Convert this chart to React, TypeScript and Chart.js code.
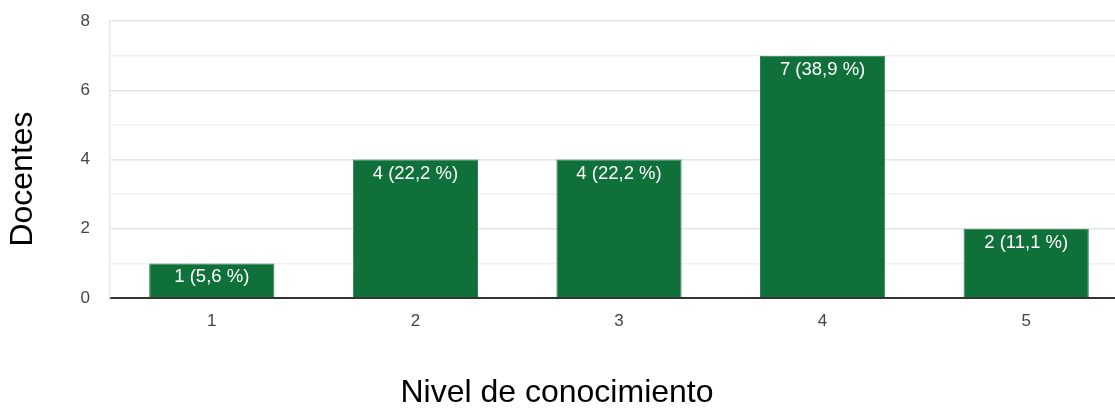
import React, { useEffect, useRef } from "react";
import { Chart, registerables } from "chart.js";

Chart.register(...registerables);

const categories = ["1", "2", "3", "4", "5"];
const docentes = [1, 4, 4, 7, 2];
const percentLabels = ["1 (5,6 %)", "4 (22,2 %)", "4 (22,2 %)", "7 (38,9 %)", "2 (11,1 %)"];
const yTickLabels = [0, 2, 4, 6, 8];
const xTitle = "Nivel de conocimiento";
const yTitle = "Docentes";

const FONT = "'Liberation Sans', Arial, sans-serif";

const barLabelPlugin = {
  id: "barLabels",
  afterDatasetsDraw(chart: any) {
    const ctx = chart.ctx;
    const meta = chart.getDatasetMeta(0);
    ctx.save();
    ctx.fillStyle = "#ffffff";
    ctx.font = `18.5px ${FONT}`;
    ctx.textAlign = "center";
    ctx.textBaseline = "middle";
    meta.data.forEach((bar: any, i: number) => {
      ctx.fillText(percentLabels[i], bar.x, bar.y + 14);
    });
    ctx.restore();
  },
};

const axisTitlePlugin = {
  id: "axisTitles",
  afterDraw(chart: any) {
    const ctx = chart.ctx;
    ctx.save();
    ctx.fillStyle = "#000000";
    ctx.font = `32px ${FONT}`;
    ctx.textAlign = "center";
    ctx.textBaseline = "middle";
    ctx.fillText(xTitle, 557, 393);
    ctx.translate(23, 179);
    ctx.rotate(-Math.PI / 2);
    ctx.fillText(yTitle, 0, 0);
    ctx.restore();
  },
};

export default function App() {
  const ref = useRef<HTMLCanvasElement | null>(null);

  useEffect(() => {
    document.body.style.margin = "0";
    document.body.style.overflow = "hidden";
    const chart = new Chart(ref.current as HTMLCanvasElement, {
      type: "bar",
      data: {
        labels: categories,
        datasets: [
          {
            data: docentes,
            backgroundColor: "#107039",
            borderColor: "#2b7f50",
            borderWidth: 1,
            categoryPercentage: 1,
            barPercentage: 0.615,
          },
        ],
      },
      options: {
        animation: false,
        responsive: false,
        maintainAspectRatio: false,
        layout: { padding: { top: 21, left: 0, right: 0, bottom: 0 } },
        plugins: {
          legend: { display: false },
          tooltip: { enabled: false },
          title: { display: false },
        },
        scales: {
          x: {
            grid: { display: false, drawTicks: false },
            border: { display: true, color: "#333333", width: 2 },
            ticks: {
              color: "#444444",
              font: { family: FONT, size: 17 },
              padding: 13,
            },
            afterFit(scale: any) {
              scale.height = 112;
              scale.paddingTop = 0;
            },
          },
          y: {
            min: 0,
            max: 8,
            ticks: {
              stepSize: 1,
              color: "#444444",
              font: { family: FONT, size: 17 },
              padding: 20,
              callback: (v: any) => (yTickLabels.includes(Number(v)) ? String(v) : ""),
            },
            grid: {
              drawTicks: false,
              color: (c: any) => (c.tick && c.tick.value % 2 === 0 ? "#e4e4e4" : "#f1f1f1"),
              lineWidth: 1.5,
            },
            border: { display: true, color: "#e8e8e8", width: 1.5 },
            afterFit(scale: any) {
              scale.width = 110;
              scale.paddingTop = 0;
              scale.paddingBottom = 0;
            },
          },
        },
      },
      plugins: [barLabelPlugin, axisTitlePlugin],
    } as any);
    return () => chart.destroy();
  }, []);

  return (
    <div style={{ position: "absolute", left: 0, top: 0, width: 1128, height: 410 }}>
      <canvas ref={ref} width={1128} height={410} style={{ width: 1128, height: 410, display: "block" }} />
    </div>
  );
}
